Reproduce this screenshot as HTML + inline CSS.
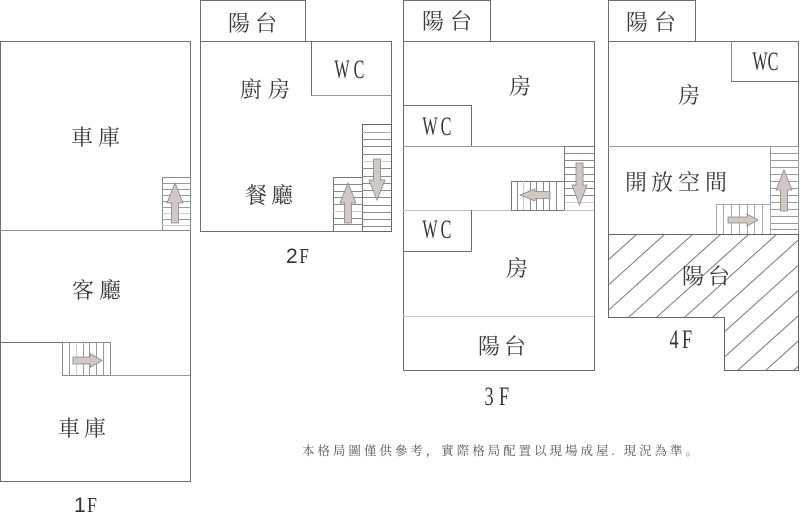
<!DOCTYPE html>
<html><head><meta charset="utf-8">
<style>
html,body{margin:0;padding:0;background:#fff;}
svg{display:block;}
.cj{font-family:"Liberation Serif","Noto Serif CJK SC","Noto Sans CJK TC",serif;font-size:22px;fill:#3a3a3a;text-anchor:middle;}
.wc{font-family:"Liberation Serif",serif;font-size:26px;fill:#333;text-anchor:middle;}
.fl{font-family:"Liberation Sans",sans-serif;font-size:21px;fill:#333;}
.ff{font-family:"Liberation Serif",serif;font-size:21px;fill:#333;}
.ft{font-family:"Liberation Serif","Noto Serif CJK SC",serif;font-size:12.5px;fill:#555;}
</style></head>
<body>
<svg width="800" height="513" viewBox="0 0 800 513" xmlns="http://www.w3.org/2000/svg">
<defs>
<clipPath id="hc"><polygon points="608.5,234.5 798.5,234.5 798.5,370.5 724.5,370.5 724.5,317.5 608.5,317.5"/></clipPath>
</defs>
<g fill="none" stroke="#6e6e6e" stroke-width="1">
<!-- 1F -->
<rect x="0.5" y="41.5" width="190" height="440"/>
<line x1="0" y1="230.5" x2="190" y2="230.5" stroke="#9c8b84"/>
<rect x="162.5" y="177.5" width="28" height="53" stroke="#8a8a8a"/>
<g stroke="#9a9a9a">
<line x1="162" y1="183.5" x2="190" y2="183.5"/><line x1="162" y1="189.5" x2="190" y2="189.5"/>
<line x1="162" y1="195.5" x2="190" y2="195.5"/><line x1="162" y1="201.5" x2="190" y2="201.5"/>
<line x1="162" y1="207.5" x2="190" y2="207.5"/><line x1="162" y1="213.5" x2="190" y2="213.5" stroke="#ccc"/>
<line x1="162" y1="219.5" x2="190" y2="219.5"/><line x1="162" y1="225.5" x2="190" y2="225.5" stroke="#ccc"/>
</g>
<line x1="0" y1="342.5" x2="62" y2="342.5"/>
<rect x="62.5" y="342.5" width="48" height="33" stroke="#8a8a8a"/>
<g stroke="#9a9a9a">
<line x1="69.5" y1="342" x2="69.5" y2="375"/><line x1="76.5" y1="342" x2="76.5" y2="375" stroke="#ccc"/>
<line x1="83.5" y1="342" x2="83.5" y2="375"/><line x1="89.5" y1="342" x2="89.5" y2="375"/>
<line x1="96.5" y1="342" x2="96.5" y2="375"/><line x1="103.5" y1="342" x2="103.5" y2="375"/>
</g>
<line x1="110" y1="375.5" x2="190" y2="375.5" stroke="#999"/>

<!-- 2F -->
<rect x="200.5" y="0.5" width="105" height="41"/>
<rect x="200.5" y="41.5" width="191" height="190"/>
<line x1="311.5" y1="41" x2="311.5" y2="95.5"/>
<line x1="311" y1="95.5" x2="391" y2="95.5" stroke="#999"/>
<rect x="362.5" y="124.5" width="29" height="107" stroke="#666"/>
<g stroke="#8a8a8a">
<line x1="362" y1="132.5" x2="391" y2="132.5" stroke="#b0a8a4"/><line x1="362" y1="139.5" x2="391" y2="139.5"/>
<line x1="362" y1="146.5" x2="391" y2="146.5"/><line x1="362" y1="154.5" x2="391" y2="154.5"/>
<line x1="362" y1="161.5" x2="391" y2="161.5" stroke="#ccc"/><line x1="362" y1="168.5" x2="391" y2="168.5"/>
<line x1="362" y1="176.5" x2="391" y2="176.5"/><line x1="362" y1="183.5" x2="391" y2="183.5"/>
<line x1="362" y1="190.5" x2="391" y2="190.5"/><line x1="362" y1="197.5" x2="391" y2="197.5"/>
<line x1="362" y1="205.5" x2="391" y2="205.5"/><line x1="362" y1="212.5" x2="391" y2="212.5"/>
<line x1="362" y1="219.5" x2="391" y2="219.5"/><line x1="362" y1="226.5" x2="391" y2="226.5"/>
</g>
<rect x="333.5" y="177.5" width="29" height="54" stroke="#777"/>
<g stroke="#8a8a8a">
<line x1="333" y1="184.5" x2="362" y2="184.5"/><line x1="333" y1="191.5" x2="362" y2="191.5"/>
<line x1="333" y1="197.5" x2="362" y2="197.5"/><line x1="333" y1="204.5" x2="362" y2="204.5"/>
<line x1="333" y1="211.5" x2="362" y2="211.5" stroke="#ccc"/><line x1="333" y1="218.5" x2="362" y2="218.5"/>
<line x1="333" y1="224.5" x2="362" y2="224.5"/>
</g>

<!-- 3F -->
<rect x="403.5" y="0.5" width="87" height="41"/>
<rect x="403.5" y="41.5" width="191" height="329"/>
<line x1="403" y1="105.5" x2="471.5" y2="105.5"/>
<line x1="471.5" y1="105" x2="471.5" y2="146"/>
<line x1="403" y1="146.5" x2="564" y2="146.5" stroke="#999"/>
<rect x="564.5" y="146.5" width="30" height="64" stroke="#777"/>
<g stroke="#8a8a8a">
<line x1="564" y1="153.5" x2="594" y2="153.5"/><line x1="564" y1="160.5" x2="594" y2="160.5"/>
<line x1="564" y1="167.5" x2="594" y2="167.5"/><line x1="564" y1="174.5" x2="594" y2="174.5"/>
<line x1="564" y1="181.5" x2="594" y2="181.5"/><line x1="564" y1="188.5" x2="594" y2="188.5"/>
<line x1="564" y1="195.5" x2="594" y2="195.5"/><line x1="564" y1="202.5" x2="594" y2="202.5" stroke="#ccc"/>
</g>
<rect x="511.5" y="181.5" width="53" height="29" stroke="#777"/>
<g stroke="#8a8a8a">
<line x1="517.5" y1="181" x2="517.5" y2="210"/><line x1="523.5" y1="181" x2="523.5" y2="210" stroke="#ccc"/>
<line x1="530.5" y1="181" x2="530.5" y2="210"/><line x1="536.5" y1="181" x2="536.5" y2="210"/>
<line x1="543.5" y1="181" x2="543.5" y2="210"/><line x1="549.5" y1="181" x2="549.5" y2="210"/>
<line x1="556.5" y1="181" x2="556.5" y2="210"/>
</g>
<line x1="403" y1="210.5" x2="511" y2="210.5" stroke="#c4c4c4"/>
<line x1="564" y1="210.5" x2="594" y2="210.5" stroke="#c4c4c4"/>
<line x1="471.5" y1="210" x2="471.5" y2="251.5"/>
<line x1="403" y1="251.5" x2="471.5" y2="251.5"/>
<line x1="403" y1="316.5" x2="594" y2="316.5" stroke="#c4c4c4"/>

<!-- 4F -->
<rect x="608.5" y="0.5" width="87" height="41"/>
<line x1="608.5" y1="41" x2="608.5" y2="317.5"/>
<line x1="608" y1="41.5" x2="799" y2="41.5"/>
<line x1="798.5" y1="41" x2="798.5" y2="371"/>
<line x1="731.5" y1="41" x2="731.5" y2="81.5" stroke="#888"/>
<line x1="731" y1="81.5" x2="799" y2="81.5"/>
<line x1="608" y1="146.5" x2="770" y2="146.5" stroke="#999"/>
<rect x="770.5" y="146.5" width="28" height="88" stroke="#999"/>
<g stroke="#9a9a9a">
<line x1="770" y1="153.5" x2="799" y2="153.5"/><line x1="770" y1="160.5" x2="799" y2="160.5"/>
<line x1="770" y1="167.5" x2="799" y2="167.5"/><line x1="770" y1="174.5" x2="799" y2="174.5"/>
<line x1="770" y1="181.5" x2="799" y2="181.5"/><line x1="770" y1="188.5" x2="799" y2="188.5"/>
<line x1="770" y1="195.5" x2="799" y2="195.5"/><line x1="770" y1="202.5" x2="799" y2="202.5"/>
<line x1="770" y1="209.5" x2="799" y2="209.5"/><line x1="770" y1="216.5" x2="799" y2="216.5"/>
<line x1="770" y1="223.5" x2="799" y2="223.5"/><line x1="770" y1="229.5" x2="799" y2="229.5"/>
</g>
<rect x="716.5" y="204.5" width="54" height="30" stroke="#aaa"/>
<g stroke="#aaa">
<line x1="723.5" y1="204" x2="723.5" y2="234"/><line x1="731.5" y1="204" x2="731.5" y2="234"/>
<line x1="739.5" y1="204" x2="739.5" y2="234"/><line x1="747.5" y1="204" x2="747.5" y2="234"/>
<line x1="754.5" y1="204" x2="754.5" y2="234"/><line x1="762.5" y1="204" x2="762.5" y2="234"/>
</g>
<polygon points="608.5,234.5 798.5,234.5 798.5,370.5 724.5,370.5 724.5,317.5 608.5,317.5" stroke="#666"/>
<g clip-path="url(#hc)" stroke="#777">
<line x1="581" y1="234" x2="429" y2="371"/>
<line x1="609" y1="234" x2="457" y2="371"/>
<line x1="637" y1="234" x2="485" y2="371"/>
<line x1="665" y1="234" x2="513" y2="371"/>
<line x1="693" y1="234" x2="541" y2="371"/>
<line x1="721" y1="234" x2="569" y2="371"/>
<line x1="749" y1="234" x2="597" y2="371"/>
<line x1="777" y1="234" x2="625" y2="371"/>
<line x1="805" y1="234" x2="653" y2="371"/>
<line x1="833" y1="234" x2="681" y2="371"/>
<line x1="861" y1="234" x2="709" y2="371"/>
<line x1="889" y1="234" x2="737" y2="371"/>
<line x1="917" y1="234" x2="765" y2="371"/>
<line x1="945" y1="234" x2="793" y2="371"/>
</g>
</g>

<!-- arrows -->
<g fill="#cfc8c4" stroke="#8c8480" stroke-width="0.8">
<polygon points="175,183 183,203 178.5,203 178.5,223 171.5,223 171.5,203 167,203"/>
<polygon points="73,357 90,357 90,353.5 102,360.5 90,367.5 90,364 73,364"/>
<polygon points="348,183 356,203 351.5,203 351.5,223 344.5,223 344.5,203 340,203"/>
<polygon points="377,200 385,180 380.5,180 380.5,159 373.5,159 373.5,180 369,180"/>
<polygon points="579.5,205 587,185 583,185 583,163 576,163 576,185 572,185"/>
<polygon points="520,195 535,189 535,191.5 550,191.5 550,198.5 535,198.5 535,201"/>
<polygon points="784,170 792,190 787.5,190 787.5,211 780.5,211 780.5,190 776,190"/>
<polygon points="728,217 747,217 747,214 758,220 747,226 747,223 728,223"/>
</g>

<!-- labels 1F -->
<text class="cj" x="82" y="145">車</text><text class="cj" x="109" y="145">庫</text>
<text class="cj" x="83" y="298">客</text><text class="cj" x="110" y="298">廳</text>
<text class="cj" x="69" y="436">車</text><text class="cj" x="95" y="436">庫</text>
<text class="fl" x="74" y="512">1</text><text class="ff" transform="translate(92,512) scale(0.85,1)" text-anchor="middle">F</text>

<!-- 2F -->
<text class="cj" x="239" y="31">陽</text><text class="cj" x="266" y="31">台</text>
<text class="cj" x="251" y="97">廚</text><text class="cj" x="279" y="97">房</text>
<text class="cj" x="256" y="203">餐</text><text class="cj" x="282" y="203">廳</text>
<text class="wc" transform="translate(342,78) scale(0.62,1)">W</text>
<text class="wc" transform="translate(359,78) scale(0.62,1)">C</text>
<text class="fl" x="286" y="263">2</text><text class="ff" transform="translate(304,263) scale(0.8,1)" text-anchor="middle">F</text>

<!-- 3F -->
<text class="cj" x="433" y="29">陽</text><text class="cj" x="461" y="29">台</text>
<text class="cj" x="520" y="94">房</text>
<text class="wc" transform="translate(430,135) scale(0.62,1)">W</text>
<text class="wc" transform="translate(446,135) scale(0.62,1)">C</text>
<text class="wc" transform="translate(430,238) scale(0.62,1)">W</text>
<text class="wc" transform="translate(446,238) scale(0.62,1)">C</text>
<text class="cj" x="517" y="276">房</text>
<text class="cj" x="489" y="354">陽</text><text class="cj" x="515" y="354">台</text>
<text class="wc" transform="translate(489,405) scale(0.7,1)">3</text>
<text class="wc" transform="translate(504,405) scale(0.7,1)">F</text>

<!-- 4F -->
<text class="cj" x="637" y="30">陽</text><text class="cj" x="665" y="30">台</text>
<text class="wc" transform="translate(760,70) scale(0.62,1)">W</text>
<text class="wc" transform="translate(773,70) scale(0.62,1)">C</text>
<text class="cj" x="689" y="103">房</text>
<text class="cj" x="636" y="190">開</text><text class="cj" x="662" y="190">放</text>
<text class="cj" x="689" y="190">空</text><text class="cj" x="716" y="190">間</text>
<text class="cj" x="693" y="284">陽</text><text class="cj" x="719" y="284">台</text>
<text class="wc" transform="translate(674,348) scale(0.7,1)">4</text>
<text class="wc" transform="translate(687,348) scale(0.7,1)">F</text>

<!-- footer -->
<text class="ft" x="302" y="455" textLength="396" lengthAdjust="spacing">本格局圖僅供參考，實際格局配置以現場成屋. 現況為準。</text>
</svg>
</body></html>
